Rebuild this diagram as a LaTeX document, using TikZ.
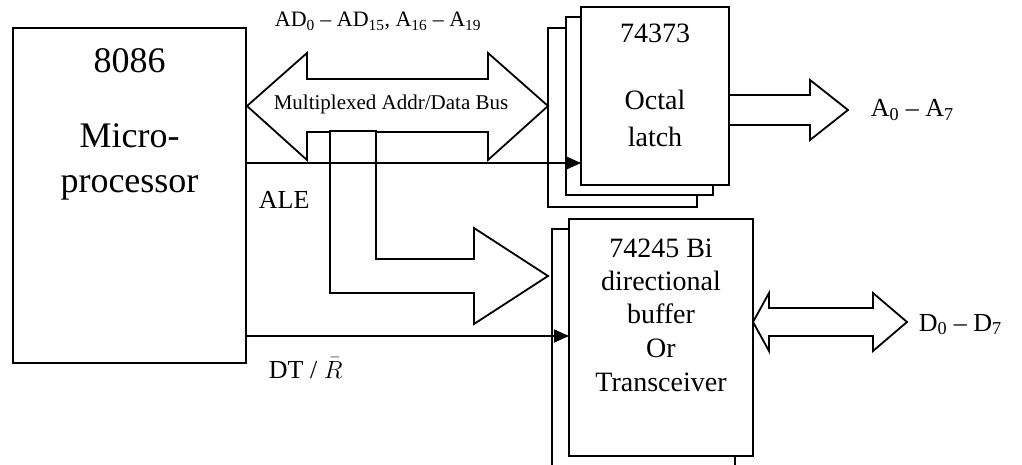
\documentclass[tikz,border=0pt]{standalone}
\usepackage{fontspec}
\setmainfont{Liberation Serif}
\usetikzlibrary{arrows.meta}

\begin{document}
\begin{tikzpicture}[x=1pt,y=-1pt,>={Triangle[length=15pt,width=13pt]},line width=1.8pt,
    box/.style={draw,fill=white,inner sep=0pt,outer sep=0pt,anchor=north west},
    txt/.style={inner sep=0pt,anchor=base},
    big/.style={font=\fontsize{36}{40}\selectfont},
    mid/.style={font=\fontsize{28}{32}\selectfont},
    sml/.style={font=\fontsize{26}{30}\selectfont},
    fat/.style={draw,fill=white,line join=miter}]
    \useasboundingbox (0,0) rectangle (1022,465);
    % 8086 box
    \node[box,minimum width=233,minimum height=335] (cpu) at (13,28) {};
    % latch stack, back to front
    \node[box,minimum width=149,minimum height=179] (latchC) at (548,28) {};
    \node[box,minimum width=147,minimum height=178] (latchB) at (566,17) {};
    \node[box,minimum width=148,minimum height=178] (latchA) at (581,7) {};
    % buffer, two layers
    \node[box,minimum width=183,minimum height=251] (bufB) at (552,229) {};
    \node[box,minimum width=184,minimum height=237] (bufA) at (569,219) {};
    % multiplexed bus
    \draw[fat] (247,106)--(307,53)--(307,79)--(488,79)--(488,53)--(548,106)
        --(488,160)--(488,132)--(307,132)--(307,160)--cycle;
    % branch to the buffer
    \draw[fat] (330,131)--(376,131)--(376,259)--(474,259)--(474,228)--(548,276)
        --(474,324)--(474,293)--(330,293)--cycle;
    % control lines
    \coordinate (ale) at (0,163);
    \coordinate (dtr) at (0,336);
    \draw[->] (cpu.east |- ale) -- (latchA.west |- ale);
    \draw[->] (cpu.east |- dtr) -- (bufA.west |- dtr);
    % outputs
    \draw[fat,fill=none] (latchA.east |- 0,95)--(810,95)--(810,80)--(848,110)
        --(810,140)--(810,125)--(latchA.east |- 0,125);
    \draw[fat] (bufA.east |- 0,322)--(769,293)--(769,308)--(873,308)--(873,293)--(907,322)
        --(873,351)--(873,336)--(769,336)--(769,351)--cycle;
    % texts
    \node[txt,big] (cpuA) at (129.5,73) {8086};
    \node[txt,big] (cpuB) at (129.5,148) {Micro-};
    \node[txt,big] (cpuC) at (129.5,193) {processor};
    \node[txt,mid] (latA) at (655,43) {74373};
    \node[txt,mid] (latB) at (655,110) {Octal};
    \node[txt,mid] (latC) at (655,147) {latch};
    \node[txt,mid] (bufT1) at (661,257) {74245 Bi};
    \node[txt,mid] (bufT2) at (661,290) {directional};
    \node[txt,mid] (bufT3) at (661,323) {buffer};
    \node[txt,mid] (bufT4) at (661,357) {Or};
    \node[txt,mid] (bufT5) at (661,391) {Transceiver};
    \node[txt,font=\fontsize{21}{24}\selectfont] (busT) at (391,110) {Multiplexed Addr/Data Bus};
    \node[txt,font=\fontsize{22}{26}\selectfont] (adT) at (378,27)
        {AD\textsubscript{0} – AD\textsubscript{15}, A\textsubscript{16} – A\textsubscript{19}};
    \node[txt,sml,anchor=base west] (aleT) at (258,208) {ALE};
    \node[txt,sml,anchor=base west] (dtrT) at (268,378) {DT / $\bar{R}$};
    \node[txt,sml,anchor=base west] (aOut) at (870,117) {A\textsubscript{0} – A\textsubscript{7}};
    \node[txt,sml,anchor=base west] (dOut) at (918,331) {D\textsubscript{0} – D\textsubscript{7}};
\end{tikzpicture}
\end{document}
